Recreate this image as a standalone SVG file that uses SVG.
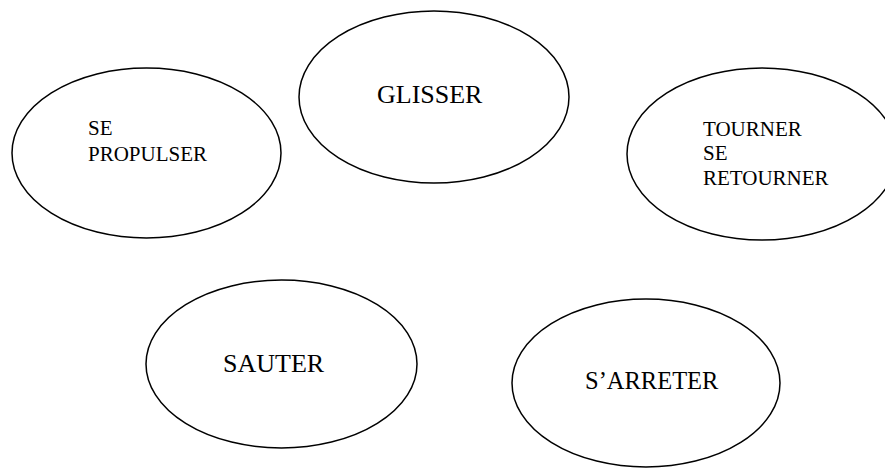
<svg xmlns="http://www.w3.org/2000/svg" width="885" height="468" viewBox="0 0 885 468">
<style>
ellipse{fill:#fff;stroke:#000;stroke-width:1.5}
text{font-family:"Liberation Serif","Times New Roman",serif;fill:#000}
.s{font-size:21px}
.l{font-size:26px}
</style>
<rect width="885" height="468" fill="#fff"/>
<g id="propulser"><ellipse cx="146.5" cy="153" rx="134.5" ry="85"/><text class="s" x="88" y="135">SE</text><text class="s" x="88" y="161">PROPULSER</text></g>
<g id="glisser"><ellipse cx="434" cy="97" rx="135" ry="86"/><text class="l" x="377" y="103">GLISSER</text></g>
<g id="tourner"><ellipse cx="762" cy="154" rx="135" ry="86"/><text class="s" x="703" y="136">TOURNER</text><text class="s" x="703" y="160">SE</text><text class="s" x="703" y="185">RETOURNER</text></g>
<g id="sauter"><ellipse cx="281.5" cy="364" rx="135.5" ry="84"/><text class="l" x="223" y="372">SAUTER</text></g>
<g id="arreter"><ellipse cx="646" cy="383" rx="134" ry="84"/><text style="font-size:24.5px" x="585" y="389">S’ARRETER</text></g>
<g id="connectors"/>
</svg>
